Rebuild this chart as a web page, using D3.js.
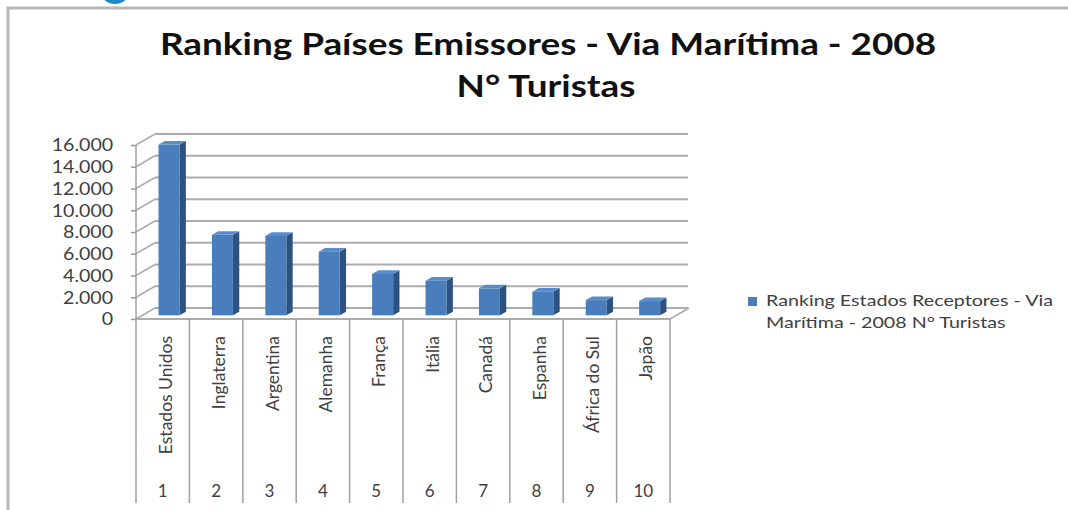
<!DOCTYPE html>
<html>
<head>
<meta charset="utf-8">
<script src="https://cdn.jsdelivr.net/npm/d3@7"></script>
<style>
  html, body { margin: 0; padding: 0; background: #fff; }
  svg { display: block; font-family: Lato, "Open Sans", sans-serif; }
</style>
</head>
<body>
<script>
const countries = ["Estados Unidos", "Inglaterra", "Argentina", "Alemanha", "França",
  "Itália", "Canadá", "Espanha", "África do Sul", "Japão"];
const ranks = ["1", "2", "3", "4", "5", "6", "7", "8", "9", "10"];
const tourists = [15700, 7400, 7300, 5850, 3800, 3180, 2480, 2170, 1400, 1310];
const yTicks = [0, 2000, 4000, 6000, 8000, 10000, 12000, 14000, 16000];
const titleLines = ["Ranking Países Emissores - Via Marítima - 2008", "N° Turistas"];
const legendLines = ["Ranking Estados Receptores - Via", "Marítima - 2008 N° Turistas"];

const width = 1068;
const height = 510;
const depthX = 19;
const depthY = -11;
const stretch = 1.23; // the source picture is widened a bit
const textColor = "#404040";
const gridColor = "#acacac";

const pt = d3.formatLocale({ decimal: ",", thousands: ".", grouping: [3], currency: ["", ""] });
const fmt = pt.format(",");

const svg = d3.select("body").append("svg")
  .attr("width", width)
  .attr("height", height);

// logo fragment + frame
svg.append("circle").attr("cx", 115).attr("cy", -12).attr("r", 16).attr("fill", "#1a8ac6");
svg.append("path")
  .attr("d", `M8,${height} L8,8 L${width},8`)
  .attr("fill", "none")
  .attr("stroke", "#b8b8b8")
  .attr("stroke-width", 3);

// title
svg.selectAll(".title")
  .data(titleLines)
  .enter()
  .append("text")
  .attr("class", "title")
  .attr("transform", (d, i) => `translate(${i === 0 ? 548 : 546},${55 + i * 42}) scale(${stretch},1)`)
  .attr("text-anchor", "middle")
  .attr("font-size", 30)
  .attr("font-weight", "bold")
  .attr("fill", "#111")
  .text((d) => d);

const x = d3.scaleBand().domain(countries).range([136, 670]).padding(0);
const y = d3.scaleLinear().domain([0, 16000]).range([319, 145]);

// back wall gridlines
const grid = svg.append("g");
grid.selectAll("line.grid")
  .data(yTicks)
  .enter()
  .append("line")
  .attr("x1", 136 + depthX)
  .attr("x2", 688)
  .attr("y1", (d) => y(d) + depthY)
  .attr("y2", (d) => y(d) + depthY)
  .attr("stroke", gridColor)
  .attr("stroke-width", 2);

// left wall diagonals
grid.selectAll("line.diag")
  .data(yTicks)
  .enter()
  .append("line")
  .attr("x1", 136)
  .attr("x2", 136 + depthX)
  .attr("y1", (d) => y(d))
  .attr("y2", (d) => y(d) + depthY)
  .attr("stroke", gridColor)
  .attr("stroke-width", 1.5);

// floor front + right diagonal
grid.append("line")
  .attr("x1", 136).attr("x2", 670)
  .attr("y1", y(0)).attr("y2", y(0))
  .attr("stroke", gridColor).attr("stroke-width", 2);
grid.append("line")
  .attr("x1", 670).attr("x2", 670 + depthX)
  .attr("y1", y(0)).attr("y2", y(0) + depthY)
  .attr("stroke", gridColor).attr("stroke-width", 1.5);

// y axis
const yAxis = d3.axisLeft(y).tickValues(yTicks).tickFormat(fmt).tickSize(5).tickPadding(16);
const yg = svg.append("g").attr("transform", "translate(136,0)").call(yAxis);
yg.select(".domain").remove();
yg.selectAll(".tick line").attr("stroke", "#999").attr("stroke-width", 1.5);
yg.selectAll(".tick text")
  .attr("font-family", "Lato, sans-serif")
  .attr("font-size", 18)
  .attr("transform", "scale(1.09,1)")
  .attr("fill", textColor);

// category table lines
const bounds = countries.map((c) => x(c)).concat([x.range()[1]]);
svg.selectAll("line.sep")
  .data(bounds)
  .enter()
  .append("line")
  .attr("x1", (d) => d)
  .attr("x2", (d) => d)
  .attr("y1", (d, i) => (i === 0 ? 145 : y(0)))
  .attr("y2", 503)
  .attr("stroke", "#a0a0a0")
  .attr("stroke-width", 1.5);

// 3D bars
const barW = 21;
const fx = depthX / 3;
const fy = depthY / 3;
const bars = svg.append("g")
  .selectAll("g")
  .data(countries.map((c, i) => ({ c, v: tourists[i] })))
  .enter()
  .append("g");

const barLeft = (d) => x(d.c) + (x.bandwidth() - barW) / 2 + fx;
const barTop = (d) => y(d.v) + fy;
const barBottom = y(0) + fy;

bars.append("path")
  .attr("d", (d) => {
    const x1 = barLeft(d) + barW;
    const t = barTop(d);
    return `M${x1},${t} L${x1 + fx},${t + fy} L${x1 + fx},${barBottom + fy} L${x1},${barBottom} Z`;
  })
  .attr("fill", "#2c5282");
bars.append("path")
  .attr("d", (d) => {
    const x0 = barLeft(d);
    const t = barTop(d);
    return `M${x0},${t} L${x0 + fx},${t + fy} L${x0 + barW + fx},${t + fy} L${x0 + barW},${t} Z`;
  })
  .attr("fill", "#5a8ccb");
bars.append("rect")
  .attr("x", barLeft)
  .attr("y", barTop)
  .attr("width", barW)
  .attr("height", (d) => barBottom - barTop(d))
  .attr("fill", "#4a7dbb");

// category names (rotated) and rank numbers
svg.selectAll("text.cat")
  .data(countries)
  .enter()
  .append("text")
  .attr("class", "cat")
  .attr("transform", (d) => `translate(${x(d) + x.bandwidth() / 2 + 9},336) rotate(-90)`)
  .attr("text-anchor", "end")
  .attr("font-size", 17.5)
  .attr("fill", textColor)
  .text((d) => d);

svg.selectAll("text.rank")
  .data(ranks)
  .enter()
  .append("text")
  .attr("class", "rank")
  .attr("x", (d, i) => x(countries[i]) + x.bandwidth() / 2)
  .attr("y", 497)
  .attr("text-anchor", "middle")
  .attr("font-size", 17)
  .attr("fill", textColor)
  .text((d) => d);

// legend
svg.append("rect")
  .attr("x", 748).attr("y", 297)
  .attr("width", 9).attr("height", 9)
  .attr("fill", "#4a7dbb");
svg.selectAll("text.legend")
  .data(legendLines)
  .enter()
  .append("text")
  .attr("class", "legend")
  .attr("transform", (d, i) => `translate(766,${306 + i * 22}) scale(${stretch},1)`)
  .attr("font-size", 16)
  .attr("fill", textColor)
  .text((d) => d);
</script>
</body>
</html>
